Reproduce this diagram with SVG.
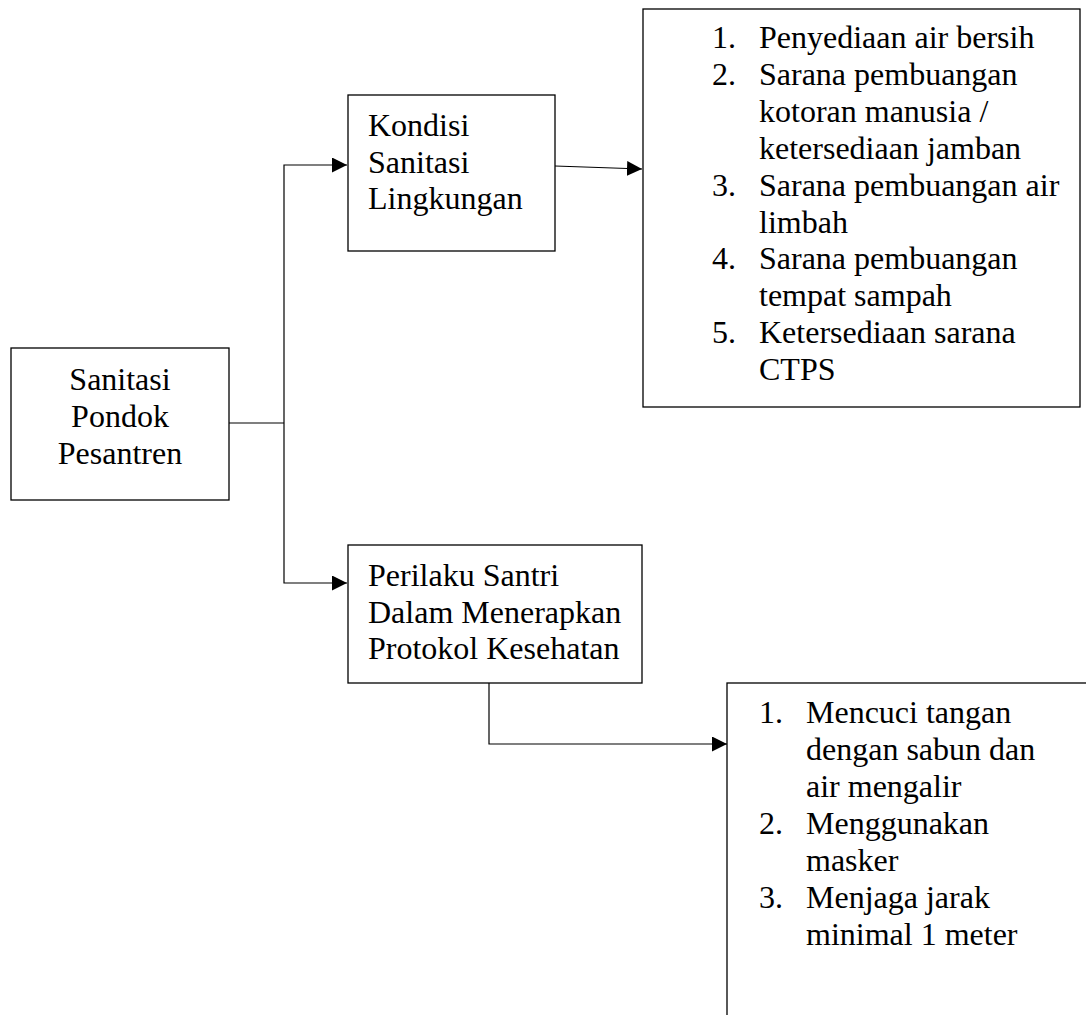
<svg xmlns="http://www.w3.org/2000/svg" width="1086" height="1015" viewBox="0 0 1086 1015">
<defs>
<style>
.box{fill:#fff;stroke:#000;stroke-width:1.3}
.conn{fill:none;stroke:#000;stroke-width:1.2}
text{font-family:"Liberation Serif","Times New Roman",serif;font-size:32px;fill:#000}
.c{text-anchor:middle}
</style>
<marker id="arr" markerUnits="userSpaceOnUse" markerWidth="16" markerHeight="16" refX="15" refY="7.5" orient="auto">
<path d="M0,0 L15,7.5 L0,15 z" fill="#000"/>
</marker>
</defs>
<rect width="1086" height="1015" fill="#fff"/>
<g id="connectors">
<path class="conn" d="M229,423 H284"/>
<path class="conn" d="M284,423 V165 H347" marker-end="url(#arr)"/>
<path class="conn" d="M284,423 V583 H347" marker-end="url(#arr)"/>
<path class="conn" d="M555,166 L642,169" marker-end="url(#arr)"/>
<path class="conn" d="M489,683 V744 H727" marker-end="url(#arr)"/>
</g>
<g id="node-sanitasi">
<rect class="box" x="11" y="348" width="218" height="152"/>
<text class="c" x="120" y="390">Sanitasi</text>
<text class="c" x="120" y="427">Pondok</text>
<text class="c" x="120" y="464">Pesantren</text>
</g>
<g id="node-kondisi">
<rect class="box" x="348" y="95" width="207" height="156"/>
<text x="368" y="136">Kondisi</text>
<text x="368" y="173">Sanitasi</text>
<text x="368" y="209">Lingkungan</text>
</g>
<g id="node-list1">
<rect class="box" x="643" y="9" width="437" height="398"/>
<text x="712" y="48">1.</text><text x="759" y="48">Penyediaan air bersih</text>
<text x="712" y="85">2.</text><text x="759" y="85">Sarana pembuangan</text>
<text x="759" y="122">kotoran manusia /</text>
<text x="759" y="159">ketersediaan jamban</text>
<text x="712" y="196">3.</text><text x="759" y="196">Sarana pembuangan air</text>
<text x="759" y="233">limbah</text>
<text x="712" y="269">4.</text><text x="759" y="269">Sarana pembuangan</text>
<text x="759" y="306">tempat sampah</text>
<text x="712" y="343">5.</text><text x="759" y="343">Ketersediaan sarana</text>
<text x="759" y="380">CTPS</text>
</g>
<g id="node-perilaku">
<rect class="box" x="348" y="545" width="294" height="138"/>
<text x="368" y="586">Perilaku Santri</text>
<text x="368" y="623">Dalam Menerapkan</text>
<text x="368" y="659">Protokol Kesehatan</text>
</g>
<g id="node-list2">
<rect class="box" x="727" y="683" width="420" height="400"/>
<text x="759" y="723">1.</text><text x="806" y="723">Mencuci tangan</text>
<text x="806" y="760">dengan sabun dan</text>
<text x="806" y="797">air mengalir</text>
<text x="759" y="834">2.</text><text x="806" y="834">Menggunakan</text>
<text x="806" y="871">masker</text>
<text x="759" y="908">3.</text><text x="806" y="908">Menjaga jarak</text>
<text x="806" y="945">minimal 1 meter</text>
</g>
</svg>
